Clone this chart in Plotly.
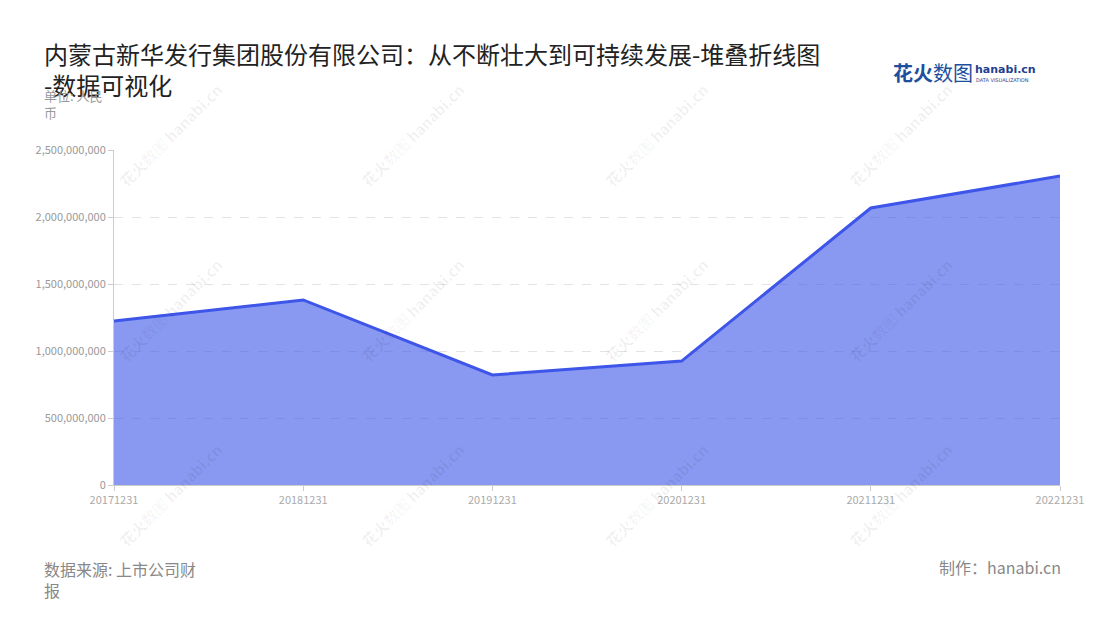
import plotly.graph_objects as go

categories = ["20171231", "20181231", "20191231", "20201231", "20211231", "20221231"]
values = [1224000000, 1381000000, 821000000, 925000000, 2067000000, 2306000000]
y_ticks = [0, 500000000, 1000000000, 1500000000, 2000000000, 2500000000]
y_tick_labels = ["0", "500,000,000", "1,000,000,000", "1,500,000,000", "2,000,000,000", "2,500,000,000"]

FONT = "Noto Sans CJK SC"

# plot area in page pixels (page has an 8px body margin)
PL, PR, PT, PB = 114, 1060, 150, 485
PW, PH = PR - PL, PB - PT


def px(x):
    return (x - PL) / PW


def py(y):
    return (PB - y) / PH


fig = go.Figure()
fig.add_trace(go.Scatter(
    x=categories, y=values, mode="lines",
    line=dict(color="#3d55e8", width=3),
    fill="tozeroy", fillcolor="rgba(64,88,232,0.62)",
    hoverinfo="x+y",
))

annotations = []
# faint watermarks
for cx in [170, 412, 656, 900]:
    for cy in [135, 310, 495]:
        annotations.append(dict(
            text="<b>花火</b>数图 <b>hanabi.cn</b>", xref="paper", yref="paper",
            x=px(cx), y=py(cy), xanchor="center", yanchor="middle",
            textangle=-45, showarrow=False,
            font=dict(size=15, color="rgba(0,0,0,0.06)", family=FONT),
        ))

annotations += [
    dict(text="内蒙古新华发行集团股份有限公司：从不断壮大到可持续发展-堆叠折线图<br>-数据可视化",
         xref="paper", yref="paper", x=px(42), y=1.0, yanchor="top", xanchor="left",
         yshift=PT - 34, showarrow=False, align="left",
         font=dict(size=24, color="#222222", family=FONT)),
    dict(text="单位: 人民<br>币", xref="paper", yref="paper", x=px(42), y=1.0,
         xanchor="left", yanchor="top", yshift=PT - 84, showarrow=False, align="left",
         font=dict(size=13, color="#999999", family=FONT)),
    dict(text="数据来源: 上市公司财<br>报", xref="paper", yref="paper", x=px(42), y=0,
         xanchor="left", yanchor="top", yshift=-(555 - PB), showarrow=False, align="left",
         font=dict(size=16, color="#888888", family=FONT)),
    dict(text="制作：hanabi.cn", xref="paper", yref="paper", x=px(1063), y=0,
         xanchor="right", yanchor="top", yshift=-(553 - PB), showarrow=False, align="right",
         font=dict(size=16, color="#888888", family=FONT)),
    dict(text="<b>花火</b>数图", xref="paper", yref="paper", x=px(891), y=1.0,
         xanchor="left", yanchor="middle", yshift=PT - 72, showarrow=False,
         font=dict(size=20, color="#1d4f9e", family=FONT)),
    dict(text="<b>hanabi.cn</b>", xref="paper", yref="paper", x=px(973), y=1.0,
         xanchor="left", yanchor="middle", yshift=PT - 69, showarrow=False,
         font=dict(size=11, color="#1f3f8f", family="DejaVu Sans")),
    dict(text="DATA VISUALIZATION", xref="paper", yref="paper", x=px(974), y=1.0,
         xanchor="left", yanchor="middle", yshift=PT - 80, showarrow=False,
         font=dict(size=5, color="#1f3f8f", family="DejaVu Sans")),
]

fig.update_layout(
    width=1092, height=612,
    paper_bgcolor="white", plot_bgcolor="white",
    margin=dict(l=PL - 8, r=1100 - PR, t=PT - 8, b=620 - PB),
    showlegend=False,
    font=dict(family=FONT, color="#999999", size=12),
    xaxis=dict(
        type="category", range=[0, 5],
        showgrid=False, showline=True, linecolor="#cccccc", linewidth=1,
        ticks="outside", ticklen=5, tickcolor="#cccccc",
        tickfont=dict(size=11, color="#aaaaaa"),
    ),
    yaxis=dict(
        range=[0, 2500000000], tickvals=y_ticks, ticktext=y_tick_labels,
        showgrid=True, gridcolor="#e3e3e3", griddash="dash", gridwidth=1,
        showline=True, linecolor="#cccccc", linewidth=1,
        ticks="outside", ticklen=5, tickcolor="#cccccc",
        tickfont=dict(size=11, color="#999999"),
        zeroline=False,
    ),
    annotations=annotations,
)

fig.write_html("out.html")
